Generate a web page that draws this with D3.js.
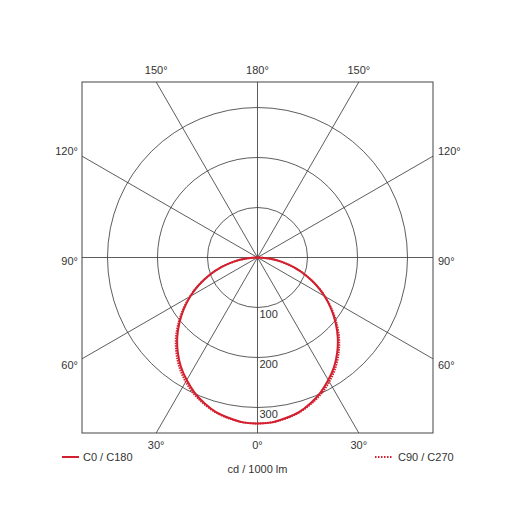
<!DOCTYPE html>
<html>
<head>
<meta charset="utf-8">
<script src="https://cdn.jsdelivr.net/npm/d3@7"></script>
<style>
  body { margin: 0; background: #fff; }
  text { font-family: "Liberation Sans", Arial, sans-serif; font-size: 11px; fill: #333; }
</style>
</head>
<body>
<svg id="chart"></svg>
<script>
// gamma angles (deg from nadir) and intensities in cd / 1000 lm
const angles = [0, 5, 10, 15, 20, 25, 30, 35, 40, 45, 50, 55, 60, 65, 70, 75, 80, 85, 90];
const c0c180 = [332, 331, 326, 320, 310, 298, 283, 267, 248, 227, 204, 180, 155, 129, 102, 75, 48, 23, 0];
const c90c270 = [332, 331, 327, 321, 312, 301, 287, 271, 252, 231, 207, 182, 156, 129, 102, 75, 48, 23, 0];
const rings = [100, 200, 300];
const spokeAngles = [0, 30, 60, 90, 120, 150, 180];
const sideLabels = ["120°", "90°", "60°"];
const topLabels = ["150°", "180°", "150°"];
const bottomLabels = ["30°", "0°", "30°"];

class PolarLdc {
    constructor(svg, width = 515, height = 515) {
        this.svg = svg;
        this.width = width;
        this.height = height;
        this.cx = 257.5;
        this.cy = 257.5;
        this.half = 175.5;
    }

    initialize() {
        this.svg = d3.select(this.svg)
            .attr("width", this.width)
            .attr("height", this.height);
        this.r = d3.scaleLinear().domain([0, 100]).range([0, 50]);
        this.svg.append("defs").append("clipPath").attr("id", "frame")
            .append("rect")
            .attr("x", this.cx - this.half).attr("y", this.cy - this.half)
            .attr("width", this.half * 2).attr("height", this.half * 2);
        this.container = this.svg.append("g");
    }

    // angle measured from straight down, positive to the right
    point(deg, v) {
        const a = deg * Math.PI / 180;
        return [this.cx + Math.sin(a) * this.r(v), this.cy + Math.cos(a) * this.r(v)];
    }

    update() {
        const g = this.container;
        const grid = g.append("g").attr("clip-path", "url(#frame)");

        grid.selectAll("circle.ring")
            .data(rings)
            .join("circle")
            .attr("cx", this.cx).attr("cy", this.cy)
            .attr("r", d => this.r(d))
            .attr("fill", "none").attr("stroke", "#333").attr("stroke-width", 0.8);

        const spokes = [];
        spokeAngles.forEach(a => { spokes.push(a); if (a > 0 && a < 180) spokes.push(-a); });
        grid.selectAll("line.spoke")
            .data(spokes)
            .join("line")
            .attr("x1", this.cx).attr("y1", this.cy)
            .attr("x2", d => this.point(d, 1000)[0])
            .attr("y2", d => this.point(d, 1000)[1])
            .attr("stroke", "#333").attr("stroke-width", 0.8);

        g.append("rect")
            .attr("x", this.cx - this.half).attr("y", this.cy - this.half)
            .attr("width", this.half * 2).attr("height", this.half * 2)
            .attr("fill", "none").attr("stroke", "#444").attr("stroke-width", 1);

        // curves, mirrored to both sides
        const line = d3.line().curve(d3.curveCardinal);
        const build = vals => {
            const pts = [];
            for (let i = vals.length - 1; i >= 0; i--) pts.push(this.point(-angles[i], vals[i]));
            for (let i = 1; i < vals.length; i++) pts.push(this.point(angles[i], vals[i]));
            return pts;
        };
        g.append("path").attr("d", line(build(c0c180)))
            .attr("fill", "none").attr("stroke", "#d2202f").attr("stroke-width", 2);
        g.append("path").attr("d", line(build(c90c270)))
            .attr("fill", "none").attr("stroke", "#d2202f").attr("stroke-width", 2)
            .attr("stroke-dasharray", "1.5,1");

        // ring values
        g.selectAll("text.ring")
            .data(rings)
            .join("text")
            .attr("x", this.cx + 2).attr("y", d => this.cy + this.r(d) + 10)
            .text(d => d);

        // angle labels
        const left = this.cx - this.half, right = this.cx + this.half;
        const top = this.cy - this.half, bottom = this.cy + this.half;
        const off = this.half * Math.tan(Math.PI / 6);
        const sideY = [this.cy - off, this.cy, this.cy + off];
        const sideShift = [-1, 7, 10];
        const colX = [this.cx - off, this.cx, this.cx + off];

        g.selectAll("text.sl").data(sideLabels).join("text")
            .attr("x", left - 4).attr("y", (d, i) => sideY[i] + sideShift[i])
            .attr("text-anchor", "end").text(d => d);
        g.selectAll("text.sr").data(sideLabels).join("text")
            .attr("x", right + 5).attr("y", (d, i) => sideY[i] + sideShift[i])
            .text(d => d);
        g.selectAll("text.tp").data(topLabels).join("text")
            .attr("x", (d, i) => colX[i]).attr("y", top - 8)
            .attr("text-anchor", "middle").text(d => d);
        g.selectAll("text.bt").data(bottomLabels).join("text")
            .attr("x", (d, i) => colX[i]).attr("y", bottom + 16)
            .attr("text-anchor", "middle").text(d => d);

        // legend
        const lg = g.append("g");
        lg.append("line").attr("x1", 62).attr("x2", 79).attr("y1", 457).attr("y2", 457)
            .attr("stroke", "#d2202f").attr("stroke-width", 2);
        lg.append("text").attr("x", 83).attr("y", 461).text("C0 / C180");
        lg.append("line").attr("x1", 375).attr("x2", 392).attr("y1", 457).attr("y2", 457)
            .attr("stroke", "#d2202f").attr("stroke-width", 2).attr("stroke-dasharray", "1.5,1.5");
        lg.append("text").attr("x", 398).attr("y", 461).text("C90 / C270");
        lg.append("text").attr("x", this.cx).attr("y", 473)
            .attr("text-anchor", "middle").text("cd / 1000 lm");
    }
}

const chart = new PolarLdc(document.getElementById("chart"));
chart.initialize();
chart.update();
</script>
</body>
</html>
